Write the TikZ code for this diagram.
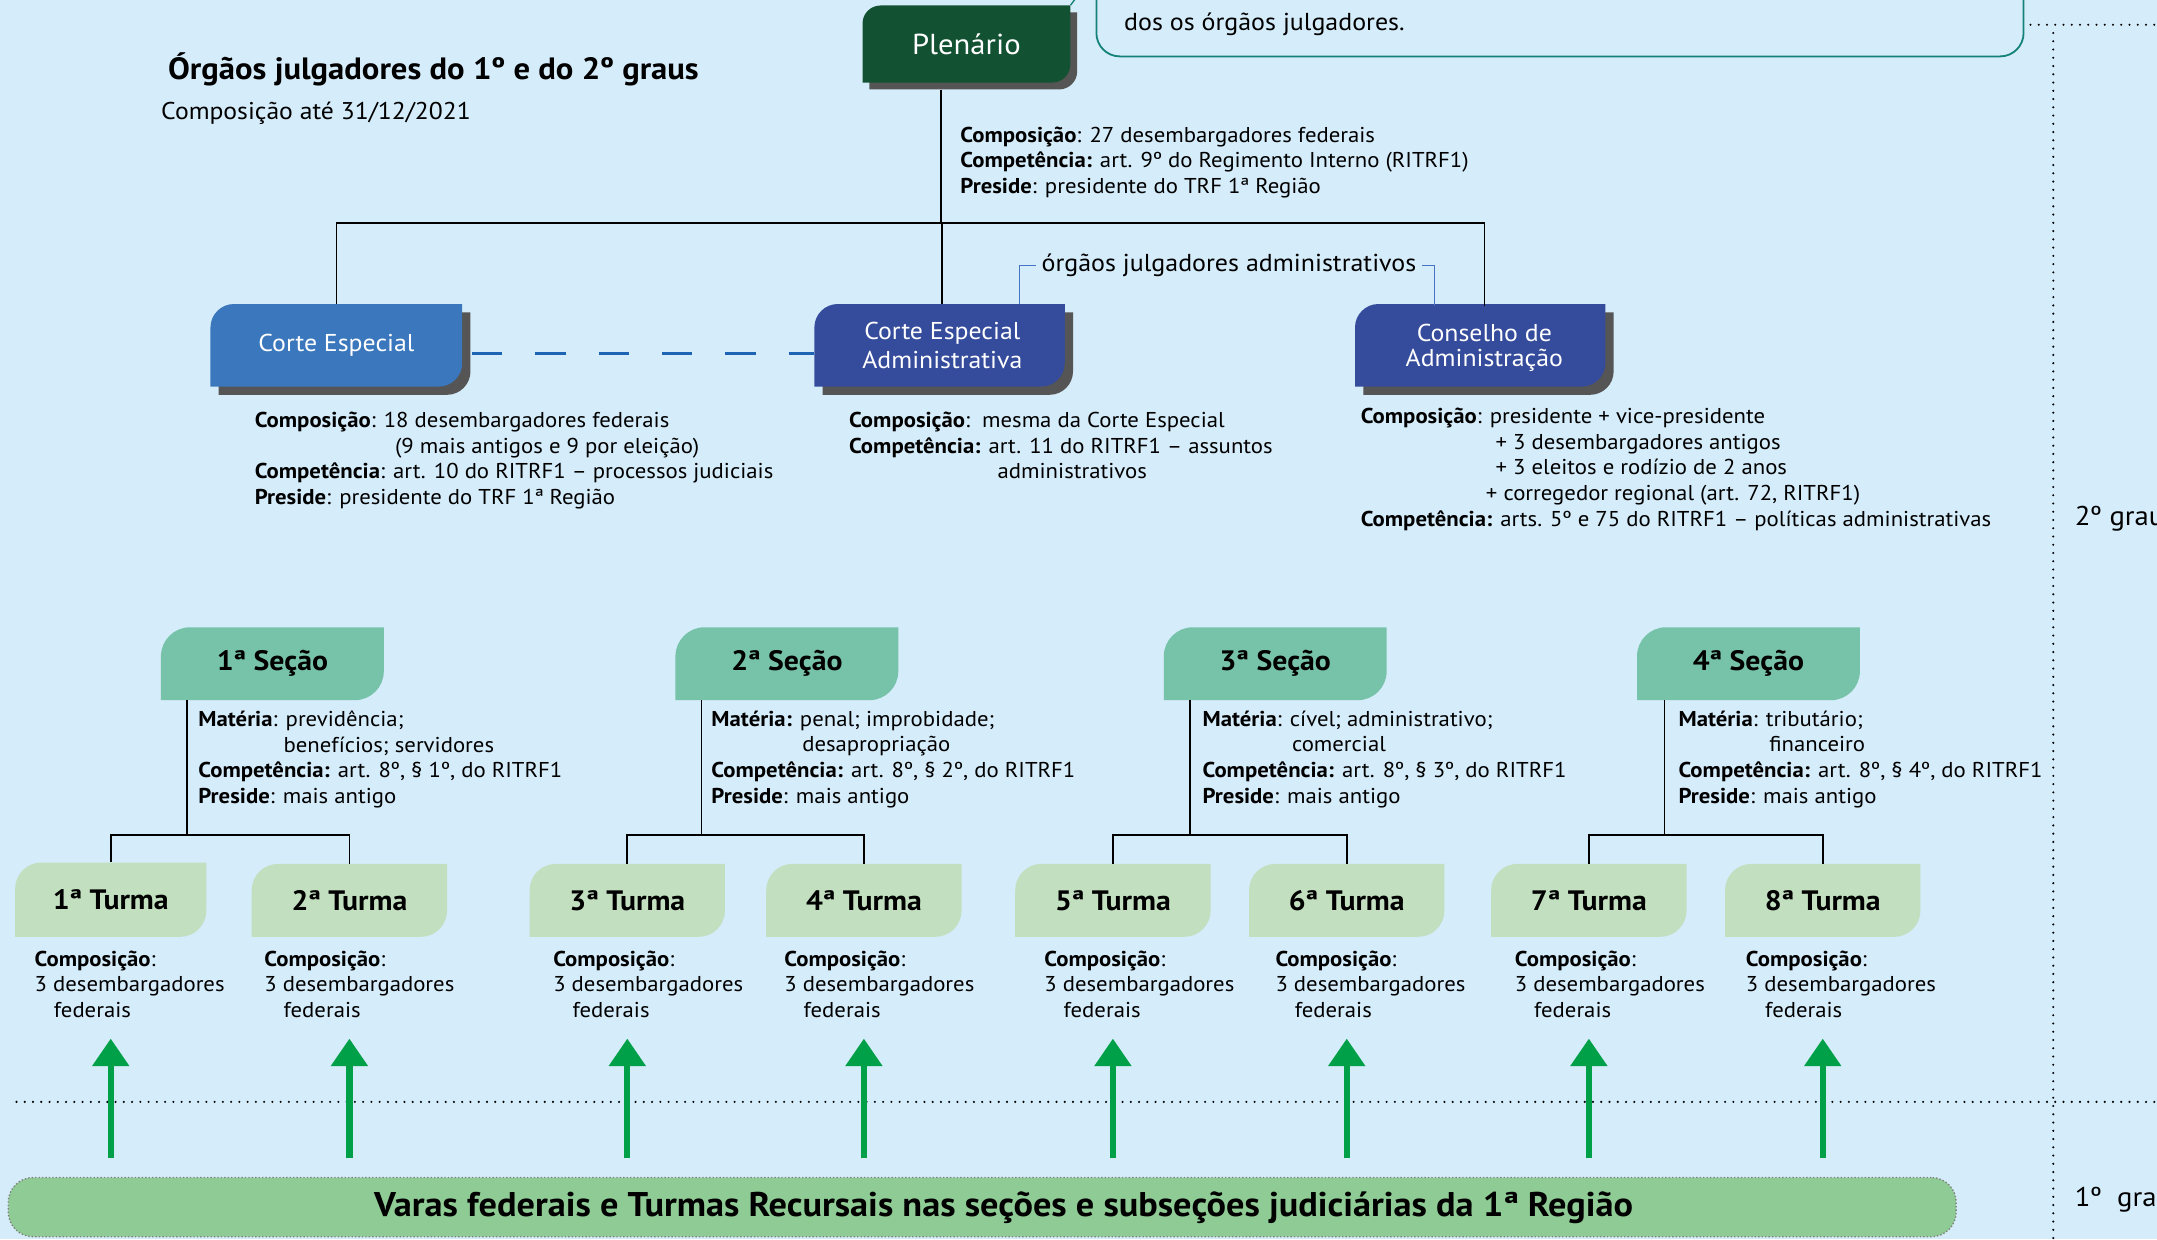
\documentclass[tikz,border=0pt]{standalone}
\usepackage{fontspec}
\setmainfont{PT Sans}[FakeStretch=1.06]
\usetikzlibrary{arrows.meta}
\definecolor{bgblue}{RGB}{213,236,250}
\definecolor{plengreen}{RGB}{18,82,50}
\definecolor{shadowgray}{RGB}{85,85,85}
\definecolor{ceblue}{RGB}{59,119,189}
\definecolor{cadark}{RGB}{53,75,155}
\definecolor{secgreen}{RGB}{119,195,170}
\definecolor{turgreen}{RGB}{194,223,192}
\definecolor{arrowgreen}{RGB}{0,160,72}
\definecolor{bargreen}{RGB}{143,203,148}
\definecolor{calloutteal}{RGB}{20,130,120}
\definecolor{dashblue}{RGB}{30,100,180}
\definecolor{bracketblue}{RGB}{70,115,195}
\newcommand{\leaf}[6]{\fill[#6] (#1,#4) -- (#1,#2+#5) .. controls (#1,#2+0.45*#5) and (#1+0.45*#5,#2) .. (#1+#5,#2) -- (#3,#2) -- (#3,#4-#5) .. controls (#3,#4-0.45*#5) and (#3-0.45*#5,#4) .. (#3-#5,#4) -- cycle;}
\newcommand{\orgbox}[9]{\leaf{#2}{#3}{#4}{#5}{#6}{#7}\node[#8, minimum width={#4-#2}, minimum height={#5-#3}] (#1) at ({(#2+#4)/2},{(#3+#5)/2}) {#9};}
\newcommand{\ind}[1]{\hspace*{#1pt}}
\tikzset{
  boxlbl/.style={inner sep=0, draw=none, text=white, align=center, font=\fontsize{17.7}{21}\selectfont},
  plenlbl/.style={boxlbl, font=\fontsize{21}{25}\selectfont},
  seclbl/.style={inner sep=0, draw=none, text=black, font=\bfseries\fontsize{20.4}{24}\selectfont},
  info/.style={anchor=north west, inner sep=0, align=left, font=\fontsize{15.6}{18.6}\selectfont},
  conn/.style={line width=1.2pt, black},
  garrow/.style={line width=4.5pt, arrowgreen, -{Triangle[width=26pt,length=20pt]}},
  dots/.style={line width=1.7pt, line cap=round, dash pattern=on 0pt off 6pt, black},
  bracket/.style={line width=0.8pt, bracketblue},
  grau/.style={anchor=base west, inner sep=0, font=\fontsize{19.7}{23}\selectfont}
}
\begin{document}
\begin{tikzpicture}[x=1pt,y=-1pt]
\clip (0,0) rectangle (1568,901);
\useasboundingbox (0,0) rectangle (1568,901);
\fill[bgblue] (0,0) rectangle (1568,901);

% title
\node[anchor=base west, inner sep=0, font=\bfseries\fontsize{22.4}{26}\selectfont] (title) at (122,58) {Órgãos julgadores do 1º e do 2º graus};
\node[anchor=base west, inner sep=0, font=\fontsize{17.6}{21}\selectfont] (subtitle) at (117,87) {Composição até 31/12/2021};

% callout
\node[draw=calloutteal, line width=1.3pt, rounded corners=17pt, minimum width=674pt, minimum height=90pt, inner sep=0] (callout) at (1134,-4) {};
\node[anchor=base west, inner sep=0, font=\fontsize{17.8}{21}\selectfont] (calltxt) at (817,22) {dos os órgãos julgadores.};

% Plenario
\leaf{632}{9}{783}{65}{13}{shadowgray}
\orgbox{plen}{627}{4}{778}{60}{13}{plengreen}{plenlbl}{Plenário}
\coordinate (tail) at (784,-4);
\draw[calloutteal, line width=1pt] (plen.north east) -- (tail);

\node[info] (plentxt) at (698,92) {\textbf{Composição}: 27 desembargadores federais\\\textbf{Competência:} art. 9º do Regimento Interno (RITRF1)\\\textbf{Preside}: presidente do TRF 1ª Região};

% level 1
\leaf{159}{227}{342}{287}{17}{shadowgray}
\orgbox{ce}{153}{221}{336}{281}{17}{ceblue}{boxlbl}{Corte Especial}
\leaf{598}{227}{780}{287}{17}{shadowgray}
\orgbox{cea}{592}{221}{774}{281}{17}{cadark}{boxlbl, xshift=2pt}{Corte Especial\\Administrativa}
\leaf{991}{227}{1173}{287}{17}{shadowgray}
\orgbox{cad}{985}{221}{1167}{281}{17}{cadark}{boxlbl, font=\fontsize{17.7}{18.5}\selectfont, yshift=-2pt, xshift=3pt}{Conselho de\\Administração}

\coordinate (j0) at (684,162);
\draw[conn] (j0 |- plen.south) ++(0,5) -- (j0);
\draw[conn] (ce.north) |- (j0);
\draw[conn] (cea.north) -- (cea.north |- j0);
\draw[conn] (cad.north) |- (j0);

\draw[dashblue, line width=1.6pt, dash pattern=on 22pt off 24pt] ([shift={(7,6)}]ce.east) -- ([shift={(-2,6)}]cea.west);

\node[anchor=west, inner xsep=4pt, inner ysep=0, font=\fontsize{17.8}{21}\selectfont] (adm) at (753,193) {órgãos julgadores administrativos};
\draw[bracket] (adm.west) -| ([xshift=56pt]cea.north);
\draw[bracket] (adm.east) -| ([xshift=-36pt]cad.north);

\node[info] (cetxt) at (185,299.5) {\textbf{Composição}: 18 desembargadores federais\\\ind{102}(9 mais antigos e 9 por eleição)\\\textbf{Competência}: art. 10 do RITRF1 – processos judiciais\\\textbf{Preside}: presidente do TRF 1ª Região};
\node[info] (ceatxt) at (617,299.5) {\textbf{Composição}:\ \ mesma da Corte Especial\\\textbf{Competência:} art. 11 do RITRF1 – assuntos\\\ind{108}administrativos};
\node[info] (cadtxt) at (989,296.5) {\textbf{Composição}: presidente + vice-presidente\\\ind{98}+ 3 desembargadores antigos\\\ind{98}+ 3 eleitos e rodízio de 2 anos\\\ind{91}+ corregedor regional (art. 72, RITRF1)\\\textbf{Competência:} arts. 5º e 75 do RITRF1 – políticas administrativas};

% secoes
\orgbox{s1}{117}{456}{279}{509}{21}{secgreen}{seclbl}{1ª Seção}
\orgbox{s2}{491}{456}{653}{509}{21}{secgreen}{seclbl}{2ª Seção}
\orgbox{s3}{846}{456}{1008}{509}{21}{secgreen}{seclbl}{3ª Seção}
\orgbox{s4}{1190}{456}{1352}{509}{21}{secgreen}{seclbl}{4ª Seção}

\node[info] (s1txt) at (144,516.5) {\textbf{Matéria}: previdência;\\\ind{62}benefícios; servidores\\\textbf{Competência:} art. 8º, § 1º, do RITRF1\\\textbf{Preside}: mais antigo};
\node[info] (s2txt) at (517,516.5) {\textbf{Matéria:} penal; improbidade;\\\ind{66}desapropriação\\\textbf{Competência:} art. 8º, § 2º, do RITRF1\\\textbf{Preside}: mais antigo};
\node[info] (s3txt) at (874,516.5) {\textbf{Matéria}: cível; administrativo;\\\ind{65}comercial\\\textbf{Competência:} art. 8º, § 3º, do RITRF1\\\textbf{Preside}: mais antigo};
\node[info] (s4txt) at (1220,516.5) {\textbf{Matéria}: tributário;\\\ind{66}financeiro\\\textbf{Competência:} art. 8º, § 4º, do RITRF1\\\textbf{Preside}: mais antigo};

% turmas
\orgbox{t1}{11}{627}{150}{681}{19}{turgreen}{seclbl}{1ª Turma}
\orgbox{t2}{183}{628}{325}{681}{19}{turgreen}{seclbl}{2ª Turma}
\orgbox{t3}{385}{628}{527}{681}{19}{turgreen}{seclbl}{3ª Turma}
\orgbox{t4}{557}{628}{699}{681}{19}{turgreen}{seclbl}{4ª Turma}
\orgbox{t5}{738}{628}{880}{681}{19}{turgreen}{seclbl}{5ª Turma}
\orgbox{t6}{908}{628}{1050}{681}{19}{turgreen}{seclbl}{6ª Turma}
\orgbox{t7}{1084}{628}{1226}{681}{19}{turgreen}{seclbl}{7ª Turma}
\orgbox{t8}{1254}{628}{1396}{681}{19}{turgreen}{seclbl}{8ª Turma}

\coordinate (k1) at (136,607);
\coordinate (k2) at (510,607);
\coordinate (k3) at (865,607);
\coordinate (k4) at (1210,607);
\draw[conn] (s1.south -| k1) -- (k1);
\draw[conn] (s2.south -| k2) -- (k2);
\draw[conn] (s3.south -| k3) -- (k3);
\draw[conn] (s4.south -| k4) -- (k4);
\draw[conn] (t1.north) |- (k1) -| (t2.north);
\draw[conn] (t3.north) |- (k2) -| (t4.north);
\draw[conn] (t5.north) |- (k3) -| (t6.north);
\draw[conn] (t7.north) |- (k4) -| (t8.north);

\foreach \n/\x in {1/25,2/192,3/402,4/570,5/759,6/927,7/1101,8/1269}{
  \node[info] (tt\n) at (\x,691) {\textbf{Composição}:\\3 desembargadores\\\ind{14}federais};
}

% separators
\draw[dots] (1476,18) -- (1570,18);
\draw[dots] (1492.6,24) -- (1492.6,905);
\draw[dots] (12,801) -- (1570,801);
\node[grau] (g2) at (1508,382) {2º grau};
\node[grau] (g1) at (1508,877) {1º\ \ grau};

% bottom bar
\node[fill=bargreen, draw=gray, line width=1pt, dash pattern=on 1pt off 1.5pt, rounded corners=18pt, minimum width=1416pt, minimum height=43pt, inner sep=0] (varas) at (714,877.5) {};
\node[inner sep=0, font=\bfseries\fontsize{24.9}{29}\selectfont] (varastxt) at (729.5,878) {Varas federais e Turmas Recursais nas seções e subseções judiciárias da 1ª Região};

% arrows
\coordinate (abot) at (0,842);
\coordinate (atop) at (0,755);
\foreach \t in {t1,t2,t3,t4,t5,t6,t7,t8}{
  \draw[garrow] (\t.south |- abot) -- (\t.south |- atop);
}
\end{tikzpicture}
\end{document}
